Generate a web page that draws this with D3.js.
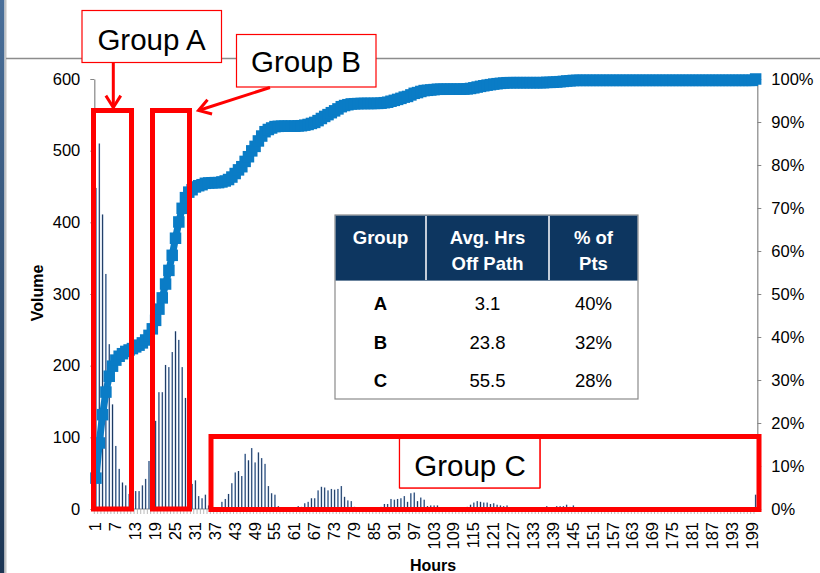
<!DOCTYPE html>
<html><head><meta charset="utf-8">
<script src="https://cdn.jsdelivr.net/npm/d3@7"></script>
<style>
body{margin:0;background:#fff}
svg{display:block;font-family:"Liberation Sans",Arial,Helvetica,sans-serif}
</style>
</head><body>
<svg id="c" width="820" height="573"></svg>
<script>
// ---------- data ----------
const hours = d3.range(1, 201);
const volume = [
 448,510,411,328,230,146,88,56,37,33,      // 1-10
 21,20,25,25,33,42,67,95,123,163,          // 11-20
 163,201,198,219,248,236,198,155,80,35,    // 21-30
 40,18,15,20,5,3,2,0,10,14,                // 31-40
 21,36,51,53,46,77,68,85,65,79,            // 41-50
 71,63,32,22,20,4,2,0,0,0,                 // 51-60
 0,4,3,8,10,15,15,26,31,30,                // 61-70
 26,28,27,28,32,17,12,11,3,2,              // 71-80
 2,0,0,0,1,0,3,7,7,14,                     // 81-90
 13,14,15,18,10,22,23,11,16,13,            // 91-100
 4,5,5,5,0,0,1,0,0,0,                      // 101-110
 0,2,3,6,9,11,10,9,9,7,                    // 111-120
 8,6,5,4,5,1,0,0,0,0,                      // 121-130
 0,0,0,0,0,0,4,0,2,4,                      // 131-140
 4,4,6,3,5,1,0,0,0,0,                      // 141-150
 0,0,0,0,0,0,0,0,0,0,                      // 151-160
 0,0,0,0,0,0,0,0,0,0,                      // 161-170
 0,0,0,0,0,0,0,0,0,0,                      // 171-180
 0,0,0,0,0,0,0,0,0,0,                      // 181-190
 0,0,0,0,0,0,0,0,0,20                      // 191-200
];
const xTickLabels = [1,7,13,19,25,31,37,43,49,55,61,67,73,79,85,91,97,103,109,115,121,127,133,139,145,151,157,163,169,175,181,187,193,199];
const volumeTicks = [0,100,200,300,400,500,600];
const pctTicks = [0,0.1,0.2,0.3,0.4,0.5,0.6,0.7,0.8,0.9,1.0];

const tableGroups = ["A","B","C"];
const tableAvgHrs = ["3.1","23.8","55.5"];
const tablePctPts = ["40%","32%","28%"];
const tableHeaders = [["Group"],["Avg. Hrs","Off Path"],["% of","Pts"]];

const groupBoxes = [
  {name:"A", from:1, to:11},
  {name:"B", from:19, to:29},
  {name:"C", from:37, to:200}
];

// ---------- setup ----------
const svg = d3.select("#c");
const W = 820, H = 573;
const plotL = 94.3, plotR = 757.3, plotT = 79, plotB = 509;

const defs = svg.append("defs");
const bg = defs.append("linearGradient").attr("id","barG").attr("x1","0").attr("x2","1").attr("y1","0").attr("y2","0");
bg.append("stop").attr("offset","0").attr("stop-color","#7d9cc4");
bg.append("stop").attr("offset","0.5").attr("stop-color","#1a365e");
bg.append("stop").attr("offset","1").attr("stop-color","#7d9cc4");
const sg = defs.append("linearGradient").attr("id","sideG").attr("x1","0").attr("x2","0").attr("y1","0").attr("y2","1");
sg.append("stop").attr("offset","0").attr("stop-color","#4a6f99");
sg.append("stop").attr("offset","1").attr("stop-color","#1c3553");

// frame of slide
svg.append("rect").attr("x",0).attr("y",0).attr("width",4.5).attr("height",H).attr("fill","url(#sideG)");
svg.append("rect").attr("x",4.5).attr("y",0).attr("width",2).attr("height",H).attr("fill","#c4c4c4");
svg.append("line").attr("x1",6).attr("x2",W).attr("y1",58.5).attr("y2",58.5).attr("stroke","#8c8c8c").attr("stroke-width",1.5);

// ---------- scales ----------
const x = d3.scaleBand().domain(hours).range([plotL, plotR]).paddingInner(0.5).paddingOuter(0.25);
const yL = d3.scaleLinear().domain([0,600]).range([plotB, plotT]);
const yR = d3.scaleLinear().domain([0,1]).range([plotB, plotT]);

const total = d3.sum(volume);
const cum = d3.cumsum(volume).map(v => v / total);

// ---------- axes ----------
const axisColor = "#868686";
const gL = svg.append("g").attr("transform",`translate(${plotL},0)`)
  .call(d3.axisLeft(yL).tickValues(volumeTicks).tickSize(4).tickPadding(10).tickSizeOuter(0));
const gR = svg.append("g").attr("transform",`translate(${plotR},0)`)
  .call(d3.axisRight(yR).tickValues(pctTicks).tickFormat(d3.format(".0%")).tickSize(4).tickPadding(10).tickSizeOuter(0));
[gL,gR].forEach(g=>{
  g.select(".domain").attr("stroke",axisColor).attr("stroke-width",1.2);
  g.selectAll(".tick line").attr("stroke",axisColor);
  g.selectAll(".tick text").attr("font-size",16.5).attr("fill","#000").attr("font-family","Liberation Sans, Arial, sans-serif");
});

// x axis baseline + minor ticks
svg.append("line").attr("x1",plotL).attr("x2",plotR).attr("y1",plotB).attr("y2",plotB).attr("stroke",axisColor).attr("stroke-width",1.2);
svg.append("g").selectAll("line").data(hours).join("line")
  .attr("x1", d => x(d) + x.bandwidth()/2 - x.step()/2)
  .attr("x2", d => x(d) + x.bandwidth()/2 - x.step()/2)
  .attr("y1", plotB).attr("y2", plotB + 5)
  .attr("stroke","#a8a8a8").attr("stroke-width",0.8);

const gX = svg.append("g").attr("transform",`translate(0,${plotB})`)
  .call(d3.axisBottom(x).tickValues(xTickLabels).tickSize(0).tickPadding(0));
gX.select(".domain").remove();
gX.selectAll(".tick text")
  .attr("font-size",16.5).attr("fill","#000").attr("font-family","Liberation Sans, Arial, sans-serif")
  .attr("transform","rotate(-90)")
  .attr("text-anchor","end")
  .attr("x",-13).attr("y",0).attr("dy","0.33em");

// axis titles
svg.append("text").attr("x",433).attr("y",571).attr("text-anchor","middle")
  .attr("font-size",16).attr("font-weight","bold").text("Hours");
svg.append("text").attr("transform","translate(43,293) rotate(-90)").attr("text-anchor","middle")
  .attr("font-size",16).attr("font-weight","bold").text("Volume");

// ---------- bars ----------
svg.append("g").selectAll("rect").data(hours).join("rect")
  .attr("x", (d) => x(d))
  .attr("width", x.bandwidth())
  .attr("y", (d,i) => yL(volume[i]))
  .attr("height", (d,i) => plotB - yL(volume[i]))
  .attr("fill","url(#barG)");

// ---------- cumulative line ----------
const lineColor = "#0a7cc6";
const line = d3.line().x((d,i) => x(hours[i]) + x.bandwidth()/2).y(d => yR(d));
svg.append("path").datum(cum).attr("d", line).attr("fill","none")
  .attr("stroke", lineColor).attr("stroke-width", 7).attr("stroke-linejoin","round");
const ms = 11.5;
svg.append("g").selectAll("rect").data(cum).join("rect")
  .attr("x", (d,i) => x(hours[i]) + x.bandwidth()/2 - ms/2)
  .attr("y", d => yR(d) - ms/2)
  .attr("width", ms).attr("height", ms).attr("fill", lineColor);

// ---------- table ----------
const tX = 335, tY = 215, tW = 303, tH = 184, hdrH = 65;
const colEdges = [335, 426, 549, 638];
const tg = svg.append("g");
tg.append("rect").attr("x",tX).attr("y",tY).attr("width",tW).attr("height",tH).attr("fill","#fff").attr("stroke","#8a8a8a").attr("stroke-width",1.2);
tg.append("rect").attr("x",tX+0.6).attr("y",tY+0.6).attr("width",tW-1.2).attr("height",hdrH).attr("fill","#0d3660");
tg.selectAll("line.div").data([colEdges[1], colEdges[2]]).join("line").attr("class","div")
  .attr("x1",d=>d).attr("x2",d=>d).attr("y1",tY+1).attr("y2",tY+hdrH).attr("stroke","#d9dee6").attr("stroke-width",1.8);
const colCenters = [0,1,2].map(i => (colEdges[i]+colEdges[i+1])/2);
tableHeaders.forEach((lines, ci) => {
  const t = tg.append("text").attr("x", colCenters[ci]).attr("text-anchor","middle")
    .attr("fill","#fff").attr("font-weight","bold").attr("font-size",18.5);
  lines.forEach((s, li) => t.append("tspan").attr("x", colCenters[ci]).attr("y", 243.5 + li*26).text(s));
});
const rowBase = [309.5, 348.5, 387];
tableGroups.forEach((g,i) => {
  tg.append("text").attr("x",colCenters[0]).attr("y",rowBase[i]).attr("text-anchor","middle")
    .attr("font-weight","bold").attr("font-size",18.5).text(g);
  tg.append("text").attr("x",colCenters[1]).attr("y",rowBase[i]).attr("text-anchor","middle")
    .attr("font-size",18.5).text(tableAvgHrs[i]);
  tg.append("text").attr("x",colCenters[2]).attr("y",rowBase[i]).attr("text-anchor","middle")
    .attr("font-size",18.5).text(tablePctPts[i]);
});

// ---------- annotations ----------
const red = "#ff0000";
const ann = svg.append("g");
// label box C (under thick box)
ann.append("rect").attr("x",399.5).attr("y",437).attr("width",140.5).attr("height",51).attr("fill","#fff").attr("stroke",red).attr("stroke-width",1.2);
ann.append("text").attr("x",470).attr("y",476).attr("text-anchor","middle").attr("font-size",29.5).text("Group C");

// thick group boxes (positions from the band scale)
const boxPos = {
  A:{x0:93.5, x1:131.5, y0:110.5, y1:509},
  B:{x0:152.5, x1:189.5, y0:110.5, y1:509},
  C:{x0:211, x1:759, y0:436.5, y1:509.5}
};
groupBoxes.forEach(g => {
  const b = boxPos[g.name];
  ann.append("rect").attr("x",b.x0).attr("y",b.y0).attr("width",b.x1-b.x0).attr("height",b.y1-b.y0)
    .attr("fill","none").attr("stroke",red).attr("stroke-width",5);
});
// redraw label C on top of thick line region inside
ann.append("rect").attr("x",400.1).attr("y",439.5).attr("width",139.3).attr("height",47.9).attr("fill","#fff");
ann.append("line").attr("x1",399.5).attr("x2",399.5).attr("y1",437).attr("y2",488).attr("stroke",red).attr("stroke-width",1.2);
ann.append("line").attr("x1",540).attr("x2",540).attr("y1",437).attr("y2",488).attr("stroke",red).attr("stroke-width",1.2);
ann.append("line").attr("x1",399.5).attr("x2",540).attr("y1",488).attr("y2",488).attr("stroke",red).attr("stroke-width",1.2);
ann.append("text").attr("x",470).attr("y",476).attr("text-anchor","middle").attr("font-size",29.5).text("Group C");

// label boxes A and B
ann.append("rect").attr("x",82).attr("y",10.5).attr("width",139.5).attr("height",52).attr("fill","#fff").attr("stroke",red).attr("stroke-width",1.2);
ann.append("text").attr("x",151.5).attr("y",49.5).attr("text-anchor","middle").attr("font-size",29.5).text("Group A");
ann.append("rect").attr("x",236.5).attr("y",34.5).attr("width",139.5).attr("height",52.5).attr("fill","#fff").attr("stroke",red).attr("stroke-width",1.2);
ann.append("text").attr("x",306).attr("y",72).attr("text-anchor","middle").attr("font-size",29.5).text("Group B");

// arrows
function arrow(x1,y1,x2,y2){
  ann.append("line").attr("x1",x1).attr("y1",y1).attr("x2",x2).attr("y2",y2).attr("stroke",red).attr("stroke-width",3);
  const a = Math.atan2(y1-y2, x1-x2), L = 14, s = 0.56;
  const p1 = [x2 + L*Math.cos(a+s), y2 + L*Math.sin(a+s)];
  const p2 = [x2 + L*Math.cos(a-s), y2 + L*Math.sin(a-s)];
  ann.append("path").attr("d",`M${p1}L${x2},${y2}L${p2}`).attr("fill","none").attr("stroke",red).attr("stroke-width",3).attr("stroke-linejoin","miter");
}
arrow(113.3, 63, 113.3, 107.5);
arrow(270, 87.5, 198.5, 110.5);
</script>
</body></html>
